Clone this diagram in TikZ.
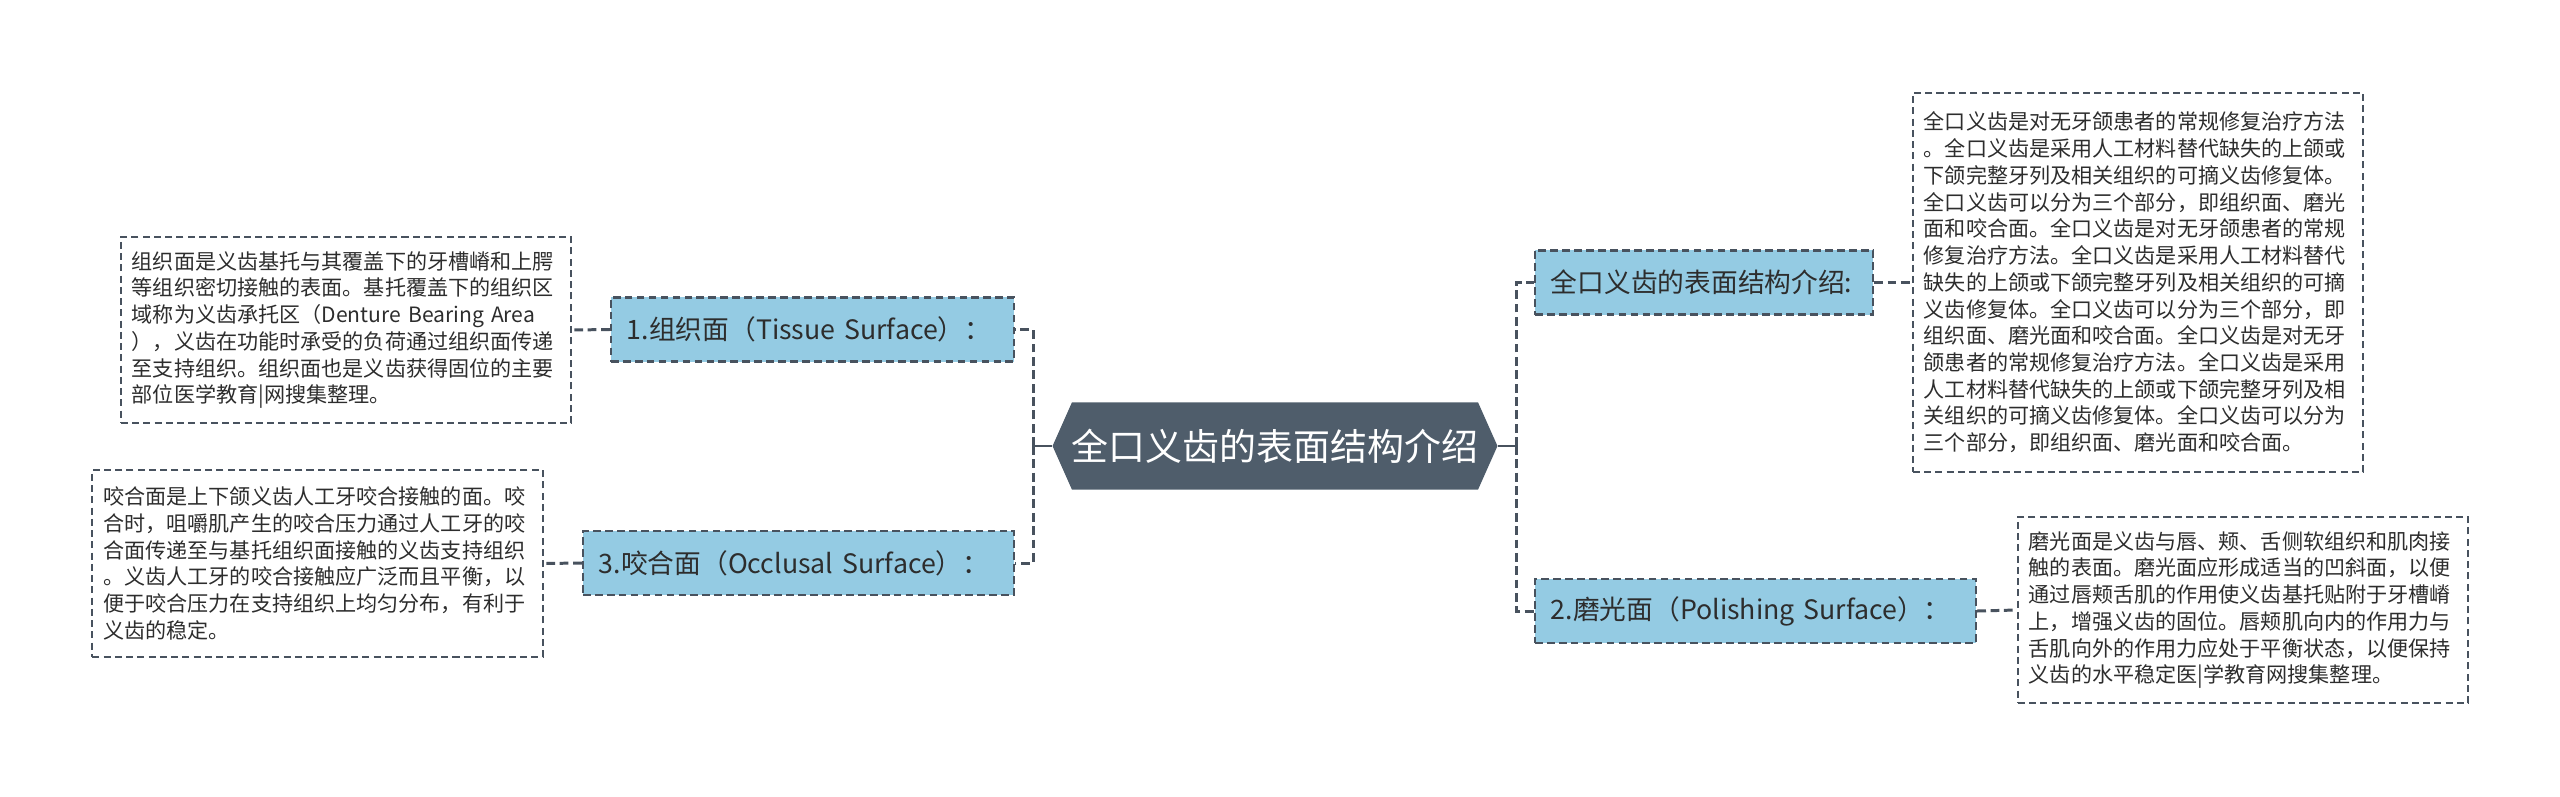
\documentclass[tikz,border=0pt]{standalone}
\usepackage{fontspec}
\setmainfont{Noto Sans CJK SC}
\usetikzlibrary{shapes.symbols}
\definecolor{mmslate}{RGB}{79,93,107}
\definecolor{mmblue}{RGB}{148,203,227}
\definecolor{mmline}{RGB}{72,82,94}
\definecolor{mmtext}{RGB}{45,45,45}

\begin{document}
\begin{tikzpicture}[x=0.01cm,y=-0.01cm,
  root/.style={signal,signal to=west and east,signal pointer angle=132,fill=mmslate,text=white,font=\fontsize{10.5}{12}\selectfont,minimum width=4.44cm,minimum height=0.87cm,inner sep=0pt},
  topic/.style={draw=mmline,line width=0.6pt,dash pattern=on 2.2pt off 1.2pt,fill=mmblue,text=mmtext,font=\fontsize{7.6}{9}\selectfont,align=left,inner xsep=0.16cm,inner ysep=0pt,minimum height=0.64cm},
  note/.style={draw=mmline,line width=0.5pt,dash pattern=on 2pt off 1.2pt,text=mmtext,font=\fontsize{6}{7.6}\selectfont,align=left,text width=4.28cm,inner xsep=0.11cm,inner ysep=0pt},
  link/.style={draw=mmline,line width=0.85pt,dash pattern=on 2.5pt off 1.3pt},
  stub/.style={draw=mmline,line width=0.85pt}]
\useasboundingbox (0,0) rectangle (2560,797);
\node[root] (root) at (1275,446) {全口义齿的表面结构介绍};
\coordinate (lhub) at (1033,446);
\coordinate (rhub) at (1516,446);
% left side
\node[topic,text width=3.71cm] (tissue) at (812.5,329.5) {1.组织面（Tissue Surface）：};
\node[topic,text width=3.99cm] (occl) at (798.5,563) {3.咬合面（Occlusal Surface）：};
\node[note,minimum height=1.86cm] (tissuenote) at (346,330) {组织面是义齿基托与其覆盖下的牙槽嵴和上腭\\等组织密切接触的表面。基托覆盖下的组织区\\域称为义齿承托区（Denture Bearing Area\\），义齿在功能时承受的负荷通过组织面传递\\至支持组织。组织面也是义齿获得固位的主要\\部位医学教育|网搜集整理。};
\node[note,minimum height=1.87cm] (occlnote) at (317.5,563.5) {咬合面是上下颌义齿人工牙咬合接触的面。咬\\合时，咀嚼肌产生的咬合压力通过人工牙的咬\\合面传递至与基托组织面接触的义齿支持组织\\。义齿人工牙的咬合接触应广泛而且平衡，以\\便于咬合压力在支持组织上均匀分布，有利于\\义齿的稳定。};
% right side
\node[topic,text width=3.06cm] (intro) at (1704,282.5) {全口义齿的表面结构介绍:};
\node[topic,text width=4.09cm] (polish) at (1755.5,611) {2.磨光面（Polishing Surface）：};
\node[note,minimum height=3.79cm] (intronote) at (2138,282.5) {全口义齿是对无牙颌患者的常规修复治疗方法\\。全口义齿是采用人工材料替代缺失的上颌或\\下颌完整牙列及相关组织的可摘义齿修复体。\\全口义齿可以分为三个部分，即组织面、磨光\\面和咬合面。全口义齿是对无牙颌患者的常规\\修复治疗方法。全口义齿是采用人工材料替代\\缺失的上颌或下颌完整牙列及相关组织的可摘\\义齿修复体。全口义齿可以分为三个部分，即\\组织面、磨光面和咬合面。全口义齿是对无牙\\颌患者的常规修复治疗方法。全口义齿是采用\\人工材料替代缺失的上颌或下颌完整牙列及相\\关组织的可摘义齿修复体。全口义齿可以分为\\三个部分，即组织面、磨光面和咬合面。};
\node[note,minimum height=1.86cm] (polishnote) at (2243,610) {磨光面是义齿与唇、颊、舌侧软组织和肌肉接\\触的表面。磨光面应形成适当的凹斜面，以便\\通过唇颊舌肌的作用使义齿基托贴附于牙槽嵴\\上，增强义齿的固位。唇颊肌向内的作用力与\\舌肌向外的作用力应处于平衡状态，以便保持\\义齿的水平稳定医|学教育网搜集整理。};
% connectors
\draw[stub] (root.west) -- (lhub);
\draw[stub] (root.east) -- (rhub);
\draw[link] (lhub) |- (tissue.east);
\draw[link] (lhub) |- (occl.east);
\draw[link] (rhub) |- (intro.west);
\draw[link] (rhub) |- (polish.west);
\draw[link] (tissue.west) -- (tissuenote.east);
\draw[link] (occl.west) -- (occlnote.east);
\draw[link] (intro.east) -- (intronote.west);
\draw[link] (polish.east) -- (polishnote.west);
\end{tikzpicture}
\end{document}
